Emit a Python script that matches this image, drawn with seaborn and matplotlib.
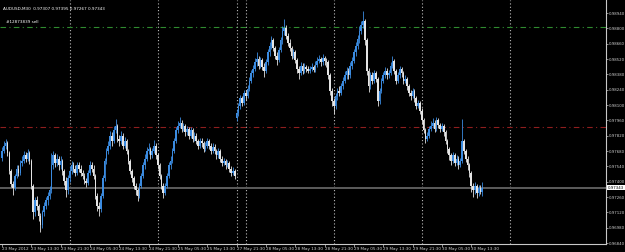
import numpy as np
import pandas as pd
import seaborn as sns
import matplotlib.pyplot as plt

# AUDUSD M30, 23 May 05:30 .. 30 May 16:30 (bar index = position on chart)
closes = [
    0.9768, 0.9773, 0.9775, 0.9766, 0.9750, 0.9738, 0.9734, 0.9745, 0.9752, 0.9748,
    0.9757, 0.9759, 0.9764, 0.9761, 0.9766, 0.9759, 0.9736, 0.9712, 0.9723, 0.9718,
    0.9709, 0.9700, 0.9712, 0.9718, 0.9723, 0.9727, 0.9732, 0.9755, 0.9764, 0.9757,
    0.9761, 0.9755, 0.9759, 0.9750, 0.9741, 0.9732, 0.9743, 0.9750, 0.9755, 0.9752,
    0.9748, 0.9755, 0.9752, 0.9748, 0.9745, 0.9741, 0.9739, 0.9748, 0.9755, 0.9752,
    0.9745, 0.9727, 0.9718, 0.9715, 0.9727, 0.9743, 0.9759, 0.9768, 0.9773, 0.9782,
    0.9777, 0.9787, 0.9791, 0.9779, 0.9777, 0.9782, 0.9773, 0.9777, 0.9768, 0.9759,
    0.9750, 0.9743, 0.9736, 0.9732, 0.9727, 0.9736, 0.9745, 0.9755, 0.9761, 0.9768,
    0.9770, 0.9764, 0.9768, 0.9773, 0.9764, 0.9755, 0.9745, 0.9736, 0.9730, 0.9736,
    0.9745, 0.9755, 0.9759, 0.9768, 0.9777, 0.9787, 0.9791, 0.9794, 0.9788, 0.9791,
    0.9785, 0.9788, 0.9782, 0.9787, 0.9779, 0.9782, 0.9777, 0.9773, 0.9777, 0.9775,
    0.9770, 0.9773, 0.9777, 0.9773, 0.9768, 0.9772, 0.9768, 0.9764, 0.9768, 0.9761,
    0.9757, 0.9759, 0.9755, 0.9757, 0.9752, 0.9748, 0.9750, 0.9745, 0.9803, 0.9809,
    0.9816, 0.9812, 0.9821, 0.9818, 0.9825, 0.9832, 0.9839, 0.9843, 0.9849, 0.9852,
    0.9846, 0.9851, 0.9845, 0.9841, 0.9849, 0.9858, 0.9864, 0.9869, 0.9862, 0.9855,
    0.9851, 0.9860, 0.9869, 0.9878, 0.9880, 0.9873, 0.9867, 0.9862, 0.9855, 0.9858,
    0.9851, 0.9843, 0.9839, 0.9846, 0.9841, 0.9845, 0.9843, 0.9841, 0.9843, 0.9845,
    0.9842, 0.9847, 0.9850, 0.9852, 0.9849, 0.9853, 0.9850, 0.9849, 0.9837, 0.9823,
    0.9814, 0.9809, 0.9818, 0.9823, 0.9821, 0.9827, 0.9832, 0.9837, 0.9841, 0.9837,
    0.9846, 0.9850, 0.9858, 0.9864, 0.9870, 0.9878, 0.9883, 0.9887, 0.9869, 0.9841,
    0.9827, 0.9837, 0.9832, 0.9839, 0.9834, 0.9814, 0.9823, 0.9832, 0.9837, 0.9841,
    0.9837, 0.9839, 0.9846, 0.9850, 0.9841, 0.9832, 0.9837, 0.9843, 0.9839, 0.9832,
    0.9834, 0.9827, 0.9821, 0.9818, 0.9823, 0.9816, 0.9809, 0.9812, 0.9805, 0.9796,
    0.9787, 0.9779, 0.9782, 0.9788, 0.9791, 0.9794, 0.9788, 0.9796, 0.9792, 0.9788,
    0.9791, 0.9785, 0.9777, 0.9770, 0.9764, 0.9759, 0.9764, 0.9757, 0.9761, 0.9755,
    0.9759, 0.9777, 0.9768, 0.9761, 0.9755, 0.9748, 0.9736, 0.9732, 0.9736, 0.9730,
    0.9734, 0.9731, 0.97343,
]
highs = [
    0.9772, 0.9777, 0.9779, 0.9777, 0.9768, 0.9752, 0.9741, 0.9747, 0.9755, 0.9755,
    0.9760, 0.9763, 0.9768, 0.9767, 0.9770, 0.9768, 0.9761, 0.9738, 0.9726, 0.9727,
    0.9720, 0.9711, 0.9714, 0.9721, 0.9726, 0.9731, 0.9736, 0.9766, 0.9768, 0.9766,
    0.9765, 0.9763, 0.9763, 0.9761, 0.9752, 0.9744, 0.9746, 0.9754, 0.9759, 0.9758,
    0.9755, 0.9758, 0.9758, 0.9755, 0.9751, 0.9748, 0.9743, 0.9751, 0.9759, 0.9758,
    0.9755, 0.9747, 0.9730, 0.9721, 0.9730, 0.9746, 0.9762, 0.9771, 0.9777, 0.9786,
    0.9785, 0.9791, 0.9797, 0.9793, 0.9783, 0.9786, 0.9784, 0.9781, 0.9779, 0.9770,
    0.9761, 0.9752, 0.9745, 0.9739, 0.9734, 0.9739, 0.9748, 0.9758, 0.9765, 0.9772,
    0.9775, 0.9772, 0.9771, 0.9778, 0.9775, 0.9766, 0.9757, 0.9747, 0.9739, 0.9739,
    0.9748, 0.9758, 0.9763, 0.9771, 0.9780, 0.9790, 0.9795, 0.9799, 0.9796, 0.9794,
    0.9793, 0.9791, 0.9790, 0.9790, 0.9789, 0.9785, 0.9784, 0.9779, 0.9780, 0.9780,
    0.9777, 0.9776, 0.9780, 0.9779, 0.9775, 0.9775, 0.9774, 0.9770, 0.9771, 0.9770,
    0.9763, 0.9762, 0.9761, 0.9760, 0.9759, 0.9754, 0.9753, 0.9752, 0.9806, 0.9812,
    0.9819, 0.9818, 0.9824, 0.9824, 0.9828, 0.9836, 0.9842, 0.9847, 0.9853, 0.9858,
    0.9855, 0.9854, 0.9853, 0.9848, 0.9852, 0.9861, 0.9868, 0.9873, 0.9871, 0.9864,
    0.9858, 0.9863, 0.9872, 0.9882, 0.9889, 0.9883, 0.9876, 0.9870, 0.9864, 0.9861,
    0.9860, 0.9853, 0.9846, 0.9849, 0.9848, 0.9848, 0.9847, 0.9846, 0.9846, 0.9848,
    0.9847, 0.9850, 0.9854, 0.9856, 0.9854, 0.9857, 0.9855, 0.9853, 0.9851, 0.9839,
    0.9826, 0.9816, 0.9821, 0.9826, 0.9827, 0.9830, 0.9836, 0.9841, 0.9845, 0.9844,
    0.9849, 0.9854, 0.9861, 0.9868, 0.9874, 0.9882, 0.9887, 0.9896, 0.9889, 0.9871,
    0.9844, 0.9840, 0.9840, 0.9842, 0.9841, 0.9836, 0.9826, 0.9835, 0.9840, 0.9845,
    0.9844, 0.9842, 0.9849, 0.9855, 0.9852, 0.9843, 0.9840, 0.9846, 0.9845, 0.9841,
    0.9837, 0.9836, 0.9829, 0.9824, 0.9826, 0.9825, 0.9818, 0.9815, 0.9814, 0.9807,
    0.9798, 0.9789, 0.9785, 0.9791, 0.9795, 0.9798, 0.9796, 0.9799, 0.9798, 0.9794,
    0.9794, 0.9793, 0.9787, 0.9779, 0.9772, 0.9766, 0.9767, 0.9766, 0.9764, 0.9763,
    0.9762, 0.9797, 0.9779, 0.9770, 0.9763, 0.9757, 0.9750, 0.9739, 0.9740, 0.9738,
    0.9737, 0.9737, 0.97395,
]
lows = [
    0.9759, 0.9766, 0.9770, 0.9763, 0.9747, 0.9735, 0.9728, 0.9732, 0.9743, 0.9745,
    0.9746, 0.9754, 0.9757, 0.9758, 0.9759, 0.9756, 0.9733, 0.9706, 0.9709, 0.9714,
    0.9704, 0.9694, 0.9698, 0.9709, 0.9715, 0.9719, 0.9724, 0.9730, 0.9752, 0.9753,
    0.9754, 0.9751, 0.9752, 0.9746, 0.9737, 0.9726, 0.9729, 0.9740, 0.9747, 0.9749,
    0.9745, 0.9746, 0.9749, 0.9745, 0.9742, 0.9738, 0.9735, 0.9737, 0.9746, 0.9749,
    0.9742, 0.9724, 0.9713, 0.9709, 0.9712, 0.9725, 0.9741, 0.9756, 0.9765, 0.9770,
    0.9773, 0.9775, 0.9784, 0.9776, 0.9773, 0.9774, 0.9770, 0.9771, 0.9765, 0.9756,
    0.9747, 0.9740, 0.9733, 0.9728, 0.9722, 0.9725, 0.9734, 0.9743, 0.9752, 0.9759,
    0.9765, 0.9761, 0.9762, 0.9766, 0.9761, 0.9752, 0.9742, 0.9733, 0.9725, 0.9728,
    0.9734, 0.9743, 0.9752, 0.9757, 0.9766, 0.9775, 0.9784, 0.9789, 0.9785, 0.9786,
    0.9782, 0.9783, 0.9779, 0.9780, 0.9776, 0.9777, 0.9774, 0.9770, 0.9771, 0.9772,
    0.9767, 0.9768, 0.9771, 0.9770, 0.9765, 0.9766, 0.9765, 0.9761, 0.9762, 0.9758,
    0.9754, 0.9755, 0.9752, 0.9753, 0.9749, 0.9745, 0.9746, 0.9742, 0.9795, 0.9800,
    0.9806, 0.9809, 0.9810, 0.9815, 0.9816, 0.9823, 0.9830, 0.9836, 0.9841, 0.9846,
    0.9843, 0.9844, 0.9842, 0.9836, 0.9839, 0.9847, 0.9855, 0.9861, 0.9859, 0.9852,
    0.9847, 0.9849, 0.9858, 0.9866, 0.9874, 0.9870, 0.9864, 0.9859, 0.9852, 0.9853,
    0.9848, 0.9839, 0.9834, 0.9837, 0.9838, 0.9839, 0.9840, 0.9839, 0.9839, 0.9841,
    0.9840, 0.9840, 0.9845, 0.9848, 0.9846, 0.9847, 0.9847, 0.9845, 0.9834, 0.9819,
    0.9809, 0.9802, 0.9806, 0.9815, 0.9818, 0.9819, 0.9825, 0.9830, 0.9834, 0.9834,
    0.9835, 0.9843, 0.9848, 0.9855, 0.9861, 0.9867, 0.9875, 0.9880, 0.9865, 0.9837,
    0.9822, 0.9825, 0.9829, 0.9830, 0.9831, 0.9809, 0.9811, 0.9821, 0.9830, 0.9835,
    0.9834, 0.9835, 0.9837, 0.9844, 0.9838, 0.9829, 0.9830, 0.9835, 0.9836, 0.9829,
    0.9830, 0.9824, 0.9818, 0.9815, 0.9816, 0.9813, 0.9806, 0.9807, 0.9802, 0.9793,
    0.9784, 0.9775, 0.9777, 0.9780, 0.9786, 0.9789, 0.9785, 0.9786, 0.9789, 0.9785,
    0.9786, 0.9782, 0.9774, 0.9766, 0.9760, 0.9755, 0.9757, 0.9754, 0.9755, 0.9752,
    0.9753, 0.9757, 0.9765, 0.9758, 0.9751, 0.9744, 0.9731, 0.9726, 0.9729, 0.9725,
    0.9727, 0.9729, 0.97267,
]
# opens follow the previous close except where the market gapped
gap_opens = {0: 0.9762, 128: 0.9798, 262: 0.97307}

tick_bars = list(range(0, 257, 16))
tick_labels = ["23 May 2012", "23 May 13:30", "23 May 21:30", "24 May 05:30", "24 May 13:30",
               "24 May 21:30", "25 May 05:30", "25 May 13:30", "27 May 21:30", "28 May 05:30",
               "28 May 13:30", "28 May 21:30", "29 May 05:30", "29 May 13:30", "29 May 21:30",
               "30 May 05:30", "30 May 13:30"]
day_starts = [37, 85, 128, 133, 181, 229, 277]
price_ticks = [0.96840, 0.96980, 0.97120, 0.97260, 0.97400, 0.97540, 0.97680, 0.97820,
               0.97960, 0.98100, 0.98240, 0.98380, 0.98520, 0.98660, 0.98800, 0.98940]
tp_level = 0.9881
sl_level = 0.9790
bid = 0.97343

df = pd.DataFrame({"close": closes, "high": highs, "low": lows})
df["open"] = df["close"].shift(1)
for k, v in gap_opens.items():
    df.loc[k, "open"] = v
df["bar"] = np.arange(len(df))
df["up"] = df["close"] >= df["open"]

sns.set_theme(style="dark", rc={"axes.facecolor": "black", "figure.facecolor": "black",
                                "axes.edgecolor": "#c8c8c8", "xtick.color": "#c8c8c8",
                                "ytick.color": "#c8c8c8"})
plt.rcParams["font.family"] = ["DejaVu Sans"]

FS = 3.0
fig = plt.figure(figsize=(6.25, 2.52), dpi=100)
ax = fig.add_axes([0, 8 / 252, 606 / 625, 244 / 252])

UP = "#3b8be0"
DOWN = "#e4e4e4"

# period separators
for b in day_starts:
    ax.axvline(b, color="#bdbdbd", lw=0.8, ls=(0, (1, 2)), zorder=1)

ax.axhline(tp_level, color="#2f8a2f", lw=0.8, ls=(0, (5, 3, 1, 3)), zorder=1)
ax.axhline(sl_level, color="#8e1e1e", lw=0.8, ls=(0, (5, 3, 1, 3)), zorder=1)
ax.axhline(bid, color="#5c5c5c", lw=1.4, zorder=1)

colors = np.where(df["up"], UP, DOWN)
ax.vlines(df["bar"], df["low"], df["high"], colors=colors, lw=0.6, zorder=2)
body_lo = df[["open", "close"]].min(axis=1)
body_h = (df["close"] - df["open"]).abs().clip(lower=0.00003)
ax.bar(df["bar"], body_h, bottom=body_lo, width=0.9, color=colors, linewidth=0, zorder=3)

ax.set_xlim(-1.09, 329.5)
ax.set_ylim(0.96831, 0.99059)

for s in ["top", "left"]:
    ax.spines[s].set_visible(False)
for s in ["right", "bottom"]:
    ax.spines[s].set_color("#c8c8c8")
    ax.spines[s].set_linewidth(0.8)

ax.set_xticks(tick_bars)
ax.set_xticklabels(tick_labels, ha="left", fontsize=FS, color="#d0d0d0")
ax.tick_params(axis="x", length=2, width=0.5, pad=0.5, bottom=True)
ax.yaxis.tick_right()
ax.set_yticks(price_ticks)
ax.set_yticklabels([f"{p:.5f}" for p in price_ticks], fontsize=2.8, color="#d0d0d0")
ax.tick_params(axis="y", length=1.5, width=0.5, pad=0.2, right=True, left=False)
ax.grid(False)

# current price marker on the scale
ax.text(1.003, bid, f"{bid:.5f}", transform=ax.get_yaxis_transform(), fontsize=2.8,
        color="black", va="center", ha="left",
        bbox=dict(boxstyle="square,pad=0.12", fc="white", ec="none"), clip_on=False)

ax.text(0.005, 0.965, "AUDUSD,M30  0.97307 0.97395 0.97267 0.97343", transform=ax.transAxes,
        fontsize=FS, color="white", va="center", ha="left")
ax.text(2, tp_level + 0.0003, "#12873839 sell", fontsize=FS, color="white", va="bottom", ha="left")

fig.savefig("out.png", dpi=100, facecolor="black")
